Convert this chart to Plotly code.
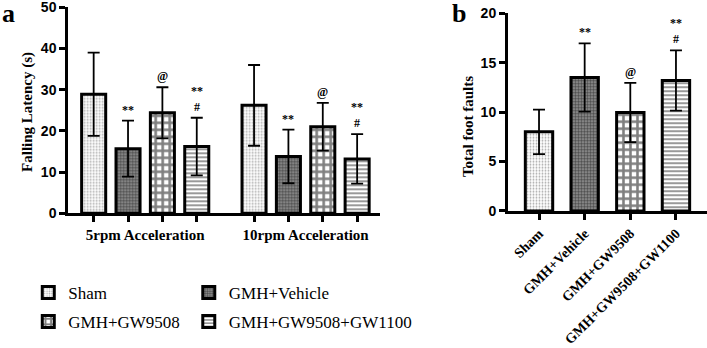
import plotly.graph_objects as go

# ---------------- data ----------------
groups_a = ["5rpm Acceleration", "10rpm Acceleration"]
series_names = ["Sham", "GMH+Vehicle", "GMH+GW9508", "GMH+GW9508+GW1100"]

sham_latency = [28.9, 26.2]
sham_latency_sd = [10.1, 9.8]
vehicle_latency = [15.7, 13.8]
vehicle_latency_sd = [6.8, 6.5]
gw9508_latency = [24.4, 21.0]
gw9508_latency_sd = [6.2, 5.8]
gw1100_latency = [16.2, 13.2]
gw1100_latency_sd = [7.0, 6.0]

sham_marks = ["", ""]
vehicle_marks = ["**", "**"]
gw9508_marks = ["@", "@"]
gw1100_marks = ["**<br>#", "**<br>#"]

foot_faults = [8.0, 13.5, 9.95, 13.2]
foot_faults_sd = [2.25, 3.45, 3.0, 3.05]
foot_marks = ["", "**", "@", "**<br>#"]

ticks_a = [0, 10, 20, 30, 40, 50]
ticks_b = [0, 5, 10, 15, 20]

# ---------------- styles ----------------
SERIF = "Liberation Serif, Tinos, Times New Roman, Times, serif"
SANS = "Liberation Sans, Arimo, Arial, Helvetica, sans-serif"
patterns = [
    dict(shape=".", fgcolor="#555555", bgcolor="white", size=3, solidity=0.3),
    dict(shape=".", fgcolor="black", bgcolor="#999999", size=3, solidity=0.55),
    dict(shape="+", fgcolor="black", bgcolor="white", size=7, solidity=0.6),
    dict(shape="-", fgcolor="black", bgcolor="white", size=4, solidity=0.4),
]
legend_of = ["legend", "legend2", "legend", "legend2"]

BARGAP = 0.143
GROUPGAP = 0.3

latencies = [sham_latency, vehicle_latency, gw9508_latency, gw1100_latency]
latency_sds = [sham_latency_sd, vehicle_latency_sd, gw9508_latency_sd, gw1100_latency_sd]
marks_a = [sham_marks, vehicle_marks, gw9508_marks, gw1100_marks]

fig = go.Figure()
group_idx = list(range(len(groups_a)))
for s, name in enumerate(series_names):
    fig.add_trace(go.Bar(
        x=group_idx, y=latencies[s], name=name,
        xaxis="x", yaxis="y",
        marker=dict(color="white", line=dict(color="black", width=3),
                    pattern=patterns[s]),
        error_y=dict(type="data", array=latency_sds[s], visible=True,
                     color="black", thickness=1.8, width=6),
        legend=legend_of[s], legendgroup=name,
    ))

fig.add_trace(go.Bar(
    x=series_names, y=foot_faults, showlegend=False,
    xaxis="x2", yaxis="y2",
    marker=dict(color="white", line=dict(color="black", width=3),
                pattern=dict(shape=[p["shape"] for p in patterns],
                             fgcolor=[p["fgcolor"] for p in patterns],
                             bgcolor=[p["bgcolor"] for p in patterns],
                             size=[p["size"] for p in patterns],
                             solidity=[p["solidity"] for p in patterns])),
    error_y=dict(type="data", array=foot_faults_sd, visible=True,
                 color="black", thickness=1.8, width=6),
))

# bar centres in panel a (for ticks and significance marks)
slot = (1 - BARGAP) / len(series_names)
bar_pos = []
for g in group_idx:
    for s in range(len(series_names)):
        bar_pos.append(g + (s - (len(series_names) - 1) / 2) * slot)

MARKFONT = dict(family=SERIF, size=12, color="black", weight="bold")
annotations = []
for s in range(len(series_names)):
    for g in group_idx:
        txt = marks_a[s][g]
        if txt:
            annotations.append(dict(
                x=g + (s - (len(series_names) - 1) / 2) * slot,
                y=latencies[s][g] + latency_sds[s][g],
                xref="x", yref="y", text=txt, showarrow=False,
                xanchor="center", yanchor="bottom", yshift=2, font=MARKFONT,
            ))
for i, txt in enumerate(foot_marks):
    if txt:
        annotations.append(dict(
            x=series_names[i], y=foot_faults[i] + foot_faults_sd[i],
            xref="x2", yref="y2", text=txt, showarrow=False,
            xanchor="center", yanchor="bottom", yshift=2, font=MARKFONT,
        ))

# axis titles and panel letters
annotations += [
    dict(text="Falling Latency (s)", x=0.038, y=0.678, xref="paper", yref="paper",
         textangle=-90, showarrow=False, xanchor="center", yanchor="middle",
         font=dict(family=SERIF, size=15, color="black", weight="bold")),
    dict(text="Total foot faults", x=0.662, y=0.635, xref="paper", yref="paper",
         textangle=-90, showarrow=False, xanchor="center", yanchor="middle",
         font=dict(family=SERIF, size=15, color="black", weight="bold")),
    dict(text="a", x=0.0, y=1.01, xref="paper", yref="paper", xanchor="left",
         yanchor="top", showarrow=False,
         font=dict(family=SERIF, size=26, color="black", weight="bold")),
    dict(text="b", x=0.636, y=1.01, xref="paper", yref="paper", xanchor="left",
         yanchor="top", showarrow=False,
         font=dict(family=SERIF, size=26, color="black", weight="bold")),
]

axis_common = dict(showline=True, linecolor="black", linewidth=3,
                   showgrid=False, zeroline=False, automargin=False)
TICKFONT_SANS = dict(family=SANS, size=14, color="black", weight="bold")
TICKFONT_SERIF = dict(family=SERIF, size=15, color="black", weight="bold")

fig.update_layout(
    width=707, height=348,
    margin=dict(l=0, r=0, t=0, b=0),
    paper_bgcolor="white", plot_bgcolor="white",
    barmode="group", bargap=BARGAP, bargroupgap=GROUPGAP,
    xaxis=dict(domain=[0.0965, 0.5375], range=[-0.48, 1.464],
               tickmode="array", tickvals=group_idx, ticktext=groups_a,
               ticks="outside", ticklen=6, tickcolor="rgba(0,0,0,0)",
               minor=dict(tickmode="array", tickvals=bar_pos, ticks="outside",
                          ticklen=6, tickwidth=2.5, tickcolor="black"),
               tickfont=TICKFONT_SERIF, anchor="y", **axis_common),
    yaxis=dict(domain=[0.387, 0.979], range=[0, 50], tickmode="array",
               tickvals=ticks_a, ticks="outside", ticklen=6, tickwidth=2.5,
               tickcolor="black", tickfont=TICKFONT_SANS,
               ticklabeloverflow="allow", anchor="x", **axis_common),
    xaxis2=dict(domain=[0.7185, 1.0], range=[-0.68, 3.68],
                ticks="outside", ticklen=6, tickwidth=2.5, tickcolor="black",
                tickangle=-45, tickfont=dict(family=SERIF, size=14, color="black", weight="bold"),
                ticklabeloverflow="allow", anchor="y2", **axis_common),
    yaxis2=dict(domain=[0.394, 0.962], range=[0, 20], tickmode="array",
                tickvals=ticks_b, ticks="outside", ticklen=6, tickwidth=2.5,
                tickcolor="black", tickfont=TICKFONT_SANS,
                ticklabeloverflow="allow", anchor="x2", **axis_common),
    legend=dict(x=0.04, y=0.21, xanchor="left", yanchor="top",
                tracegroupgap=4,
                font=dict(family=SERIF, size=17, color="black"),
                bgcolor="rgba(0,0,0,0)"),
    legend2=dict(x=0.267, y=0.21, xanchor="left", yanchor="top",
                 tracegroupgap=4,
                 font=dict(family=SERIF, size=17, color="black"),
                 bgcolor="rgba(0,0,0,0)"),
    annotations=annotations,
)

fig.write_html("out.html", config={"displayModeBar": False},
               post_script="document.body.style.margin='0px';")
